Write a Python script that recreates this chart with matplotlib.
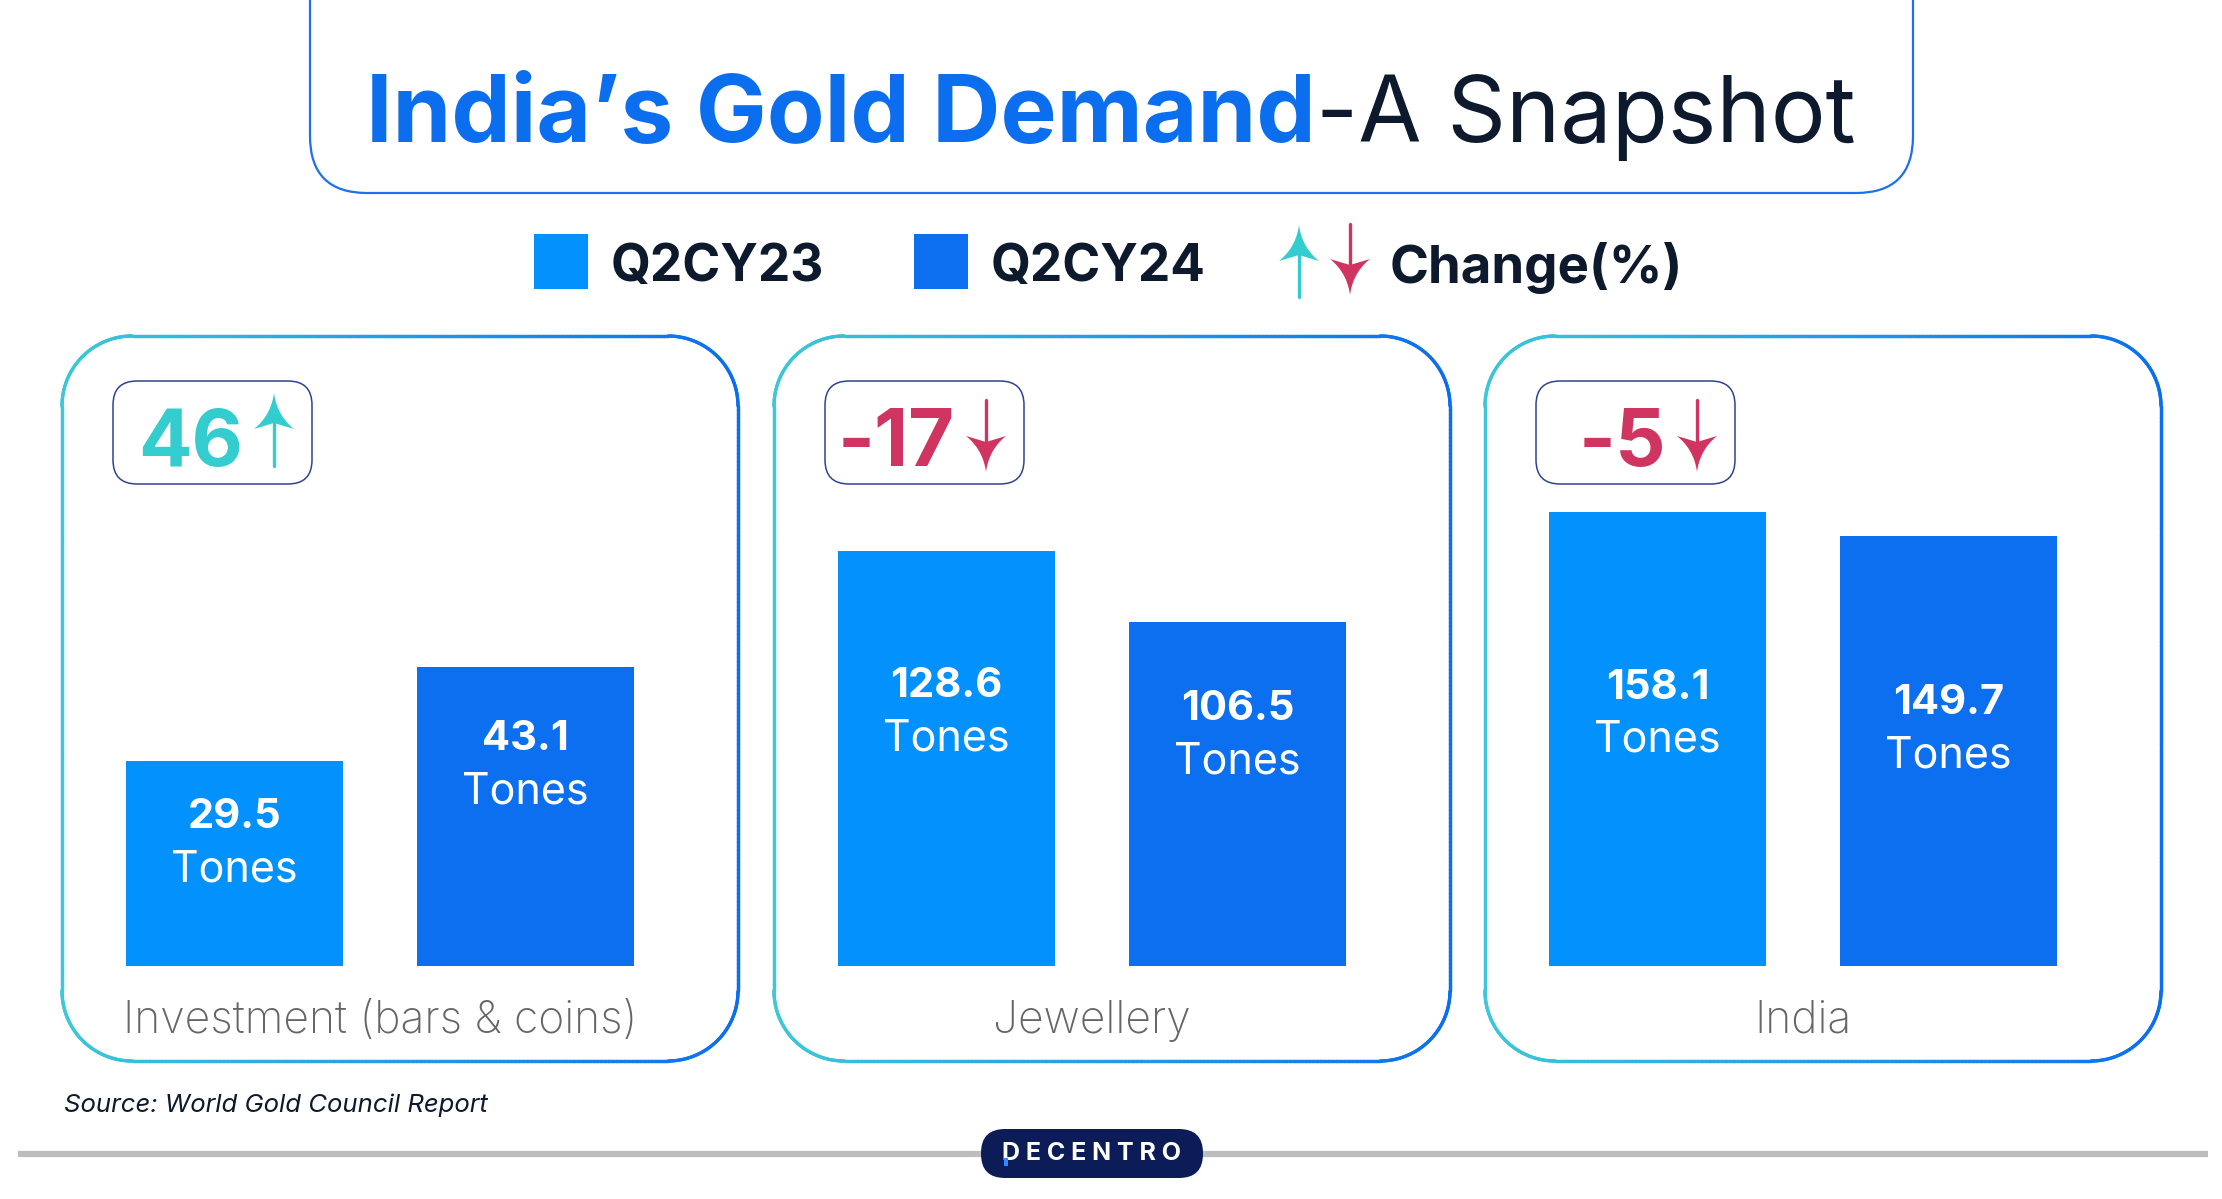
import numpy as np
import matplotlib
matplotlib.use("Agg")
import matplotlib.pyplot as plt
from matplotlib.patches import FancyBboxPatch, Rectangle, Polygon
from matplotlib.collections import LineCollection

plt.rcParams['font.family'] = ['Inter', 'DejaVu Sans']

# data
categories = ["Investment (bars & coins)", "Jewellery", "India"]
q2cy23 = [29.5, 128.6, 158.1]
q2cy24 = [43.1, 106.5, 149.7]
change_pct = [46, -17, -5]
series_names = ["Q2CY23", "Q2CY24"]

C23 = "#0391FD"
C24 = "#0C6FF0"
BLUE = "#0B6EEF"
NAVY = "#0D1A2D"
TEAL = "#33CCCF"
RED = "#D03561"

W, H = 2222, 1199
fig = plt.figure(figsize=(W / 100, H / 100), dpi=100)
bg = fig.add_axes([0, 0, 1, 1])
bg.set_xlim(0, W)
bg.set_ylim(H, 0)
bg.axis("off")


def gradient_box(ax, x0, y0, x1, y1, r, c0, c1, lw=2.2, n=40):
    parts = []
    corners = [(x1 - r, y0 + r, -90, 0), (x1 - r, y1 - r, 0, 90),
               (x0 + r, y1 - r, 90, 180), (x0 + r, y0 + r, 180, 270)]
    for cx, cy, a0, a1 in corners:
        t = np.radians(np.linspace(a0, a1, n))
        parts.append(np.column_stack([cx + r * np.cos(t), cy + r * np.sin(t)]))
    pts = np.vstack(parts + [parts[0][:1]])
    d = np.concatenate([[0], np.cumsum(np.hypot(*np.diff(pts, axis=0).T))])
    s = np.linspace(0, d[-1], 2000)
    pts = np.column_stack([np.interp(s, d, pts[:, 0]), np.interp(s, d, pts[:, 1])])
    segs = np.stack([pts[:-1], pts[1:]], axis=1)
    f = ((segs[:, 0, 0] + segs[:, 1, 0]) / 2 - x0) / (x1 - x0)
    a = np.array(matplotlib.colors.to_rgb(c0))
    b = np.array(matplotlib.colors.to_rgb(c1))
    cols = a[None, :] * (1 - f[:, None]) + b[None, :] * f[:, None]
    ax.add_collection(LineCollection(segs, colors=cols, linewidths=lw, capstyle="round"))


def arrow(ax, x, ytail, yhead, color, hw=20, hl=36):
    # dart-shaped head with concave sides
    sgn = 1 if ytail > yhead else -1
    t = np.linspace(0, 1, 20)
    cx, cy = 3, 0.62 * hl
    bx = 2 * (1 - t) * t * cx + t ** 2 * hw
    by = 2 * (1 - t) * t * cy + t ** 2 * hl
    right = np.column_stack([x + bx, yhead + sgn * by])
    left = np.column_stack([x - bx[::-1], yhead + sgn * by[::-1]])
    notch = np.array([[x, yhead + sgn * (hl - 6)]])
    ax.add_patch(Polygon(np.vstack([right, notch, left]), closed=True, fc=color, ec="none"))
    ax.plot([x, x], [ytail, yhead + sgn * (hl - 8)], color=color, lw=2.4, solid_capstyle="round")


# title box
bg.add_patch(FancyBboxPatch((310, -80), 1603, 273, boxstyle="round,pad=0,rounding_size=57",
                            fc="none", ec="#1E6FEF", lw=1.6))
t1 = bg.text(366, 142, "India\u2019s Gold Demand", color=BLUE, fontsize=68,
             fontweight="bold", va="baseline", ha="left")
bg.annotate("-A Snapshot", xy=(1, 0), xycoords=t1, va="bottom", ha="left",
            color=NAVY, fontsize=66)

# legend
for x, c, name in zip([534, 914], [C23, C24], series_names):
    bg.add_patch(Rectangle((x, 234), 54, 55, color=c, lw=0))
    bg.text(x + 77, 262, name, color=NAVY, fontsize=37, fontweight="bold",
            va="center_baseline", ha="left")
arrow(bg, 1299, 297, 225, TEAL)
arrow(bg, 1350, 224, 295, RED)
bg.text(1390, 262, "Change(%)", color=NAVY, fontsize=38, fontweight="bold",
        va="center_baseline", ha="left")

# panels
panel_left = [62, 774, 1485]
y_tops = [67.2, 144.4, 162.3]
label_frac = [[0.60, 0.67], [0.61, 0.67], [0.555, 0.55]]
for i, px in enumerate(panel_left):
    gradient_box(bg, px, 336, px + 676, 1061, 70, "#3CC8D8", "#0B6EF0", lw=2.4)

    bx = px + 51
    bg.add_patch(FancyBboxPatch((bx, 381), 199, 103, boxstyle="round,pad=0,rounding_size=24",
                                fc="white", ec="#2E4490", lw=1.1))
    ch = change_pct[i]
    col = TEAL if ch > 0 else RED
    bg.text(bx + 130, 437, f"{ch}", color=col, fontsize=57, fontweight="bold",
            ha="right", va="center_baseline")
    if ch > 0:
        arrow(bg, bx + 161, 466, 393, col)
    else:
        arrow(bg, bx + 161, 400, 472, col)

    ax = fig.add_axes([(px + 64) / W, 1 - 966 / H, 508 / W, 466 / H])
    ax.set_facecolor("none")
    vals = [q2cy23[i], q2cy24[i]]
    ax.bar([0, 1], vals, width=0.746, color=[C23, C24])
    ax.set_xlim(-0.373, 1.373)
    ax.set_ylim(0, y_tops[i])
    ax.axis("off")
    for j, v in enumerate(vals):
        yl = v * label_frac[i][j]
        ax.annotate(f"{v}", xy=(j, yl), xytext=(0, 19), textcoords="offset points",
                    ha="center", va="center", color="white", fontsize=30, fontweight="bold")
        ax.annotate("Tones", xy=(j, yl), xytext=(0, -19), textcoords="offset points",
                    ha="center", va="center", color="white", fontsize=31)
    ax.text(0.5, -0.118, categories[i], transform=ax.transAxes, ha="center", va="center",
            color="#666666", fontsize=32, fontweight="light")

# footer
bg.text(64, 1105, "Source: World Gold Council Report", style="italic", color=NAVY,
        fontsize=18.5, ha="left", va="center")
bg.plot([18, 2208], [1154, 1154], color="#BDBDBD", lw=4.5, solid_capstyle="butt", zorder=1)
bg.add_patch(FancyBboxPatch((981, 1129), 222, 49, boxstyle="round,pad=0,rounding_size=24",
                            fc="#0C1C57", ec="none", zorder=2))
bg.text(1092, 1154, "D E C E N T R O", color="white", fontsize=18, fontweight="bold",
        ha="center", va="center", zorder=3)
bg.add_patch(Rectangle((1004, 1158), 4, 8, color="#2F8BFF", lw=0, zorder=4))

fig.savefig("out.png", dpi=100)
